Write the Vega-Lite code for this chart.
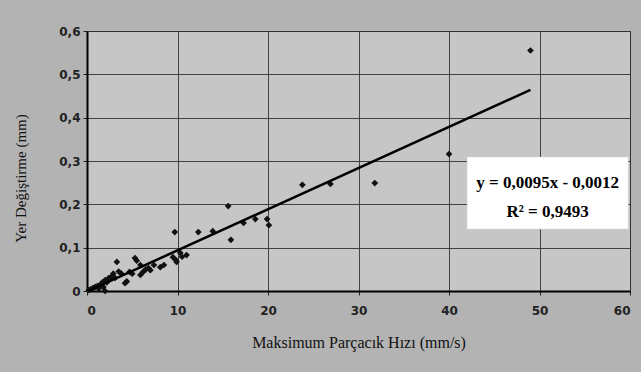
{
  "$schema": "https://vega.github.io/schema/vega-lite/v6.json",
  "width": 543,
  "height": 260,
  "autosize": {"type": "none"},
  "padding": {"left": 87, "top": 31, "right": 11, "bottom": 81},
  "background": "#b3b3b3",
  "config": {
    "view": {"fill": "#c6c6c6", "stroke": "#333333", "strokeWidth": 1},
    "axis": {
      "labelFont": "DejaVu Sans",
      "labelFontSize": 12,
      "labelFontWeight": "bold",
      "labelColor": "#222222",
      "titleFont": "Liberation Serif",
      "titleFontSize": 14,
      "titleFontWeight": "normal",
      "titleColor": "#111111",
      "gridColor": "#333333",
      "gridWidth": 1,
      "gridOpacity": 0.9,
      "domainColor": "#000000",
      "domainWidth": 2,
      "tickColor": "#222222",
      "tickSize": 4
    }
  },
  "datasets": {
    "points": [
      {"v": 0.2, "d": 0.002}, {"v": 0.4, "d": 0.004}, {"v": 0.6, "d": 0.006}, {"v": 0.8, "d": 0.008},
      {"v": 1.0, "d": 0.01}, {"v": 1.2, "d": 0.012}, {"v": 1.3, "d": 0.006}, {"v": 1.5, "d": 0.015},
      {"v": 1.7, "d": 0.02}, {"v": 1.8, "d": 0.009}, {"v": 2.0, "d": 0.0}, {"v": 2.0, "d": 0.025},
      {"v": 2.2, "d": 0.02}, {"v": 2.4, "d": 0.03}, {"v": 2.6, "d": 0.028}, {"v": 2.8, "d": 0.035},
      {"v": 2.9, "d": 0.04}, {"v": 3.1, "d": 0.03}, {"v": 3.3, "d": 0.067}, {"v": 3.5, "d": 0.045},
      {"v": 3.8, "d": 0.04}, {"v": 4.2, "d": 0.018}, {"v": 4.4, "d": 0.022}, {"v": 4.7, "d": 0.044},
      {"v": 5.0, "d": 0.04}, {"v": 5.3, "d": 0.076}, {"v": 5.5, "d": 0.07}, {"v": 5.9, "d": 0.06},
      {"v": 5.9, "d": 0.037}, {"v": 6.2, "d": 0.044}, {"v": 6.5, "d": 0.05}, {"v": 6.8, "d": 0.053},
      {"v": 7.0, "d": 0.048}, {"v": 7.4, "d": 0.06}, {"v": 8.1, "d": 0.055}, {"v": 8.5, "d": 0.06},
      {"v": 9.5, "d": 0.078}, {"v": 9.7, "d": 0.136}, {"v": 9.8, "d": 0.072}, {"v": 9.9, "d": 0.067},
      {"v": 10.3, "d": 0.088}, {"v": 10.5, "d": 0.079}, {"v": 11.0, "d": 0.083}, {"v": 12.3, "d": 0.136},
      {"v": 13.9, "d": 0.138}, {"v": 15.6, "d": 0.196}, {"v": 15.9, "d": 0.118}, {"v": 17.3, "d": 0.157},
      {"v": 18.6, "d": 0.166}, {"v": 19.9, "d": 0.166}, {"v": 20.1, "d": 0.152}, {"v": 23.8, "d": 0.245},
      {"v": 26.9, "d": 0.247}, {"v": 31.8, "d": 0.249}, {"v": 40.0, "d": 0.316}, {"v": 49.0, "d": 0.555}
    ],
    "trend": [{"v": 0, "d": -0.0012}, {"v": 49, "d": 0.4643}],
    "label": [{"line1": "y = 0,0095x - 0,0012", "line2": "R² = 0,9493"}]
  },
  "layer": [
    {
      "data": {"name": "points"},
      "mark": {"type": "point", "shape": "diamond", "filled": true, "size": 45, "color": "#111111", "opacity": 1},
      "encoding": {
        "x": {
          "field": "v", "type": "quantitative",
          "scale": {"domain": [0, 60], "nice": false},
          "axis": {"values": [0, 10, 20, 30, 40, 50, 60], "title": "Maksimum Parçacık Hızı (mm/s)", "titleFont": "Liberation Serif", "titleFontSize": 16, "labelPadding": 10, "titlePadding": 18}
        },
        "y": {
          "field": "d", "type": "quantitative",
          "scale": {"domain": [0, 0.6], "nice": false},
          "axis": {"values": [0, 0.1, 0.2, 0.3, 0.4, 0.5, 0.6], "format": ".1~f", "labelExpr": "replace(datum.label, '.', ',')", "title": "Yer Değiştirme (mm)", "titleFont": "Liberation Serif", "titleFontSize": 15, "titleY": 147, "labelPadding": 3, "titlePadding": 30}
        }
      }
    },
    {
      "data": {"name": "trend"},
      "mark": {"type": "line", "color": "#000000", "strokeWidth": 2.5, "clip": true},
      "encoding": {
        "x": {"field": "v", "type": "quantitative"},
        "y": {"field": "d", "type": "quantitative"}
      }
    },
    {
      "data": {"name": "label"},
      "mark": {"type": "rect", "fill": "#ffffff", "stroke": "#dddddd", "strokeWidth": 0.5},
      "encoding": {
        "x": {"datum": 42},
        "x2": {"datum": 59.8},
        "y": {"datum": 0.143},
        "y2": {"datum": 0.309}
      }
    },
    {
      "data": {"name": "label"},
      "mark": {"type": "text", "font": "Liberation Serif", "fontSize": 17, "fontWeight": "bold", "color": "#000000", "align": "center", "baseline": "middle"},
      "encoding": {
        "x": {"datum": 50.9},
        "y": {"datum": 0.249},
        "text": {"field": "line1"}
      }
    },
    {
      "data": {"name": "label"},
      "mark": {"type": "text", "font": "Liberation Serif", "fontSize": 17, "fontWeight": "bold", "color": "#000000", "align": "center", "baseline": "middle"},
      "encoding": {
        "x": {"datum": 50.9},
        "y": {"datum": 0.182},
        "text": {"field": "line2"}
      }
    }
  ]
}
